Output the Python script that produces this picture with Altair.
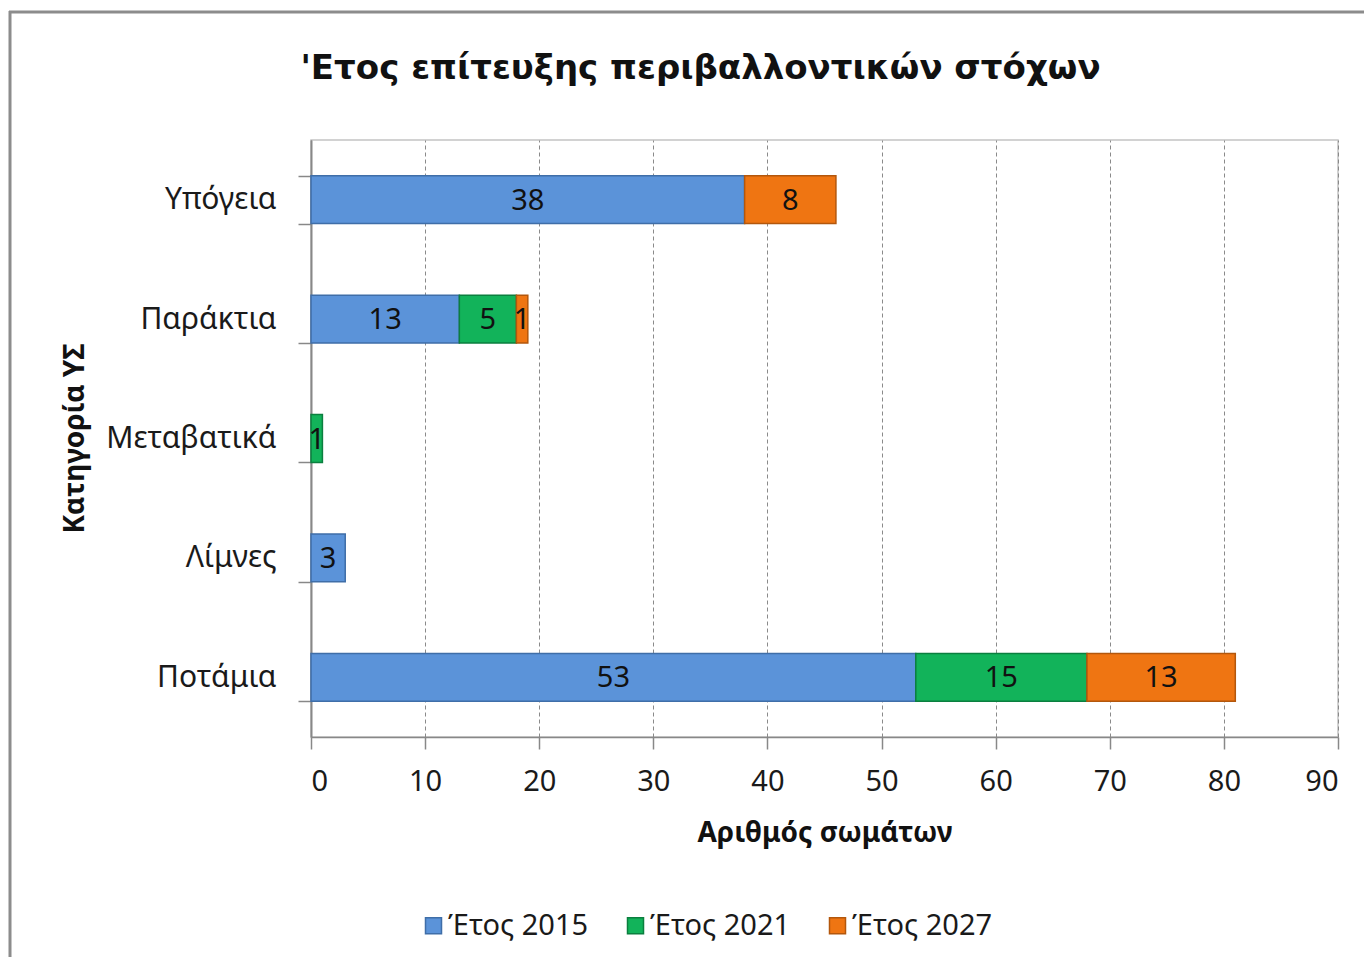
import altair as alt
import pandas as pd

categories = ["Υπόγεια", "Παράκτια", "Μεταβατικά", "Λίμνες", "Ποτάμια"]
series = ["Έτος 2015", "Έτος 2021", "Έτος 2027"]
y2015 = [38, 13, 0, 3, 53]
y2021 = [0, 5, 1, 0, 15]
y2027 = [8, 1, 0, 0, 13]
x_ticks = [0, 10, 20, 30, 40, 50, 60, 70, 80, 90]

rows = []
for i, c in enumerate(categories):
    for j, (s, vals) in enumerate(zip(series, [y2015, y2021, y2027])):
        if vals[i] > 0:
            rows.append({"cat": c, "series": s, "order": j, "value": vals[i]})
df = pd.DataFrame(rows)

FONT = "Noto Sans"
colors = ["#5b93d9", "#12b35a", "#ef7512"]
strokes = ["#3f6ea8", "#0b7f3f", "#b3570c"]

base = alt.Chart(df)

bars = base.mark_bar(strokeWidth=1.5).encode(
    y=alt.Y("cat:N", sort=categories, title="Κατηγορία ΥΣ",
            scale=alt.Scale(paddingInner=0.6, paddingOuter=0.3),
            axis=alt.Axis(tickBand="extent", tickSize=13, labelPadding=22,
                          labelFontSize=30, labelFont=FONT, labelColor="#1a1a1a",
                          domainColor="#888888", domainWidth=2, tickColor="#888888",
                          tickWidth=1.5, titleFont=FONT, titleFontSize=28,
                          titleFontWeight="bold", titleColor="#111111",
                          titleAngle=270, titleX=-236, titleY=298,
                          titleAlign="center", titleBaseline="middle")),
    x=alt.X("value:Q", stack="zero", title="Αριθμός σωμάτων",
            scale=alt.Scale(domain=[0, 90], nice=False),
            axis=alt.Axis(values=x_ticks, tickSize=12, labelPadding=18,
                          labelFontSize=29, labelFont=FONT, labelColor="#1a1a1a",
                          domainColor="#888888", domainWidth=1.5,
                          tickColor="#888888", tickWidth=1.5,
                          grid=True, gridDash=[4, 3], gridColor="#8a8a8a",
                          titleFont=FONT, titleFontSize=28, titleFontWeight="bold",
                          titleColor="#111111", titleY=96, titleBaseline="middle")),
    color=alt.Color("series:N", sort=series,
                    scale=alt.Scale(domain=series, range=colors),
                    legend=alt.Legend(title=None, orient="none", legendX=108,
                                      legendY=771, direction="horizontal",
                                      symbolType="square", symbolSize=256,
                                      symbolStrokeWidth=1.5, labelFontSize=29,
                                      labelFont=FONT, labelColor="#1a1a1a",
                                      columnPadding=32, labelOffset=0)),
    stroke=alt.Stroke("series:N", scale=alt.Scale(domain=series, range=strokes),
                      legend=None),
    order=alt.Order("order:Q"),
)

labels = base.transform_stack(
    stack="value", as_=["x0", "x1"], groupby=["cat"],
    sort=[alt.SortField("order", order="ascending")]
).transform_calculate(mid="(datum.x0 + datum.x1) / 2").mark_text(
    font=FONT, fontSize=29, color="#111111", baseline="middle", align="center", dy=1
).encode(
    y=alt.Y("cat:N", sort=categories),
    x=alt.X("mid:Q"),
    text=alt.Text("value:Q"),
)

frame_data = alt.Data(values=[{}])
frame_left = alt.Chart(frame_data).mark_rule(color="#8c8c8c", strokeWidth=3).encode(
    x=alt.value(-301), y=alt.value(-129), y2=alt.value(860))
frame_top = alt.Chart(frame_data).mark_rule(color="#8c8c8c", strokeWidth=3).encode(
    x=alt.value(-302), x2=alt.value(1100), y=alt.value(-128))

chart = alt.layer(frame_left, frame_top, bars, labels).properties(
    width=1027, height=597,
    autosize=alt.AutoSizeParams(type="none"),
    padding={"left": 303, "top": 132, "right": 26, "bottom": 220},
    title=alt.Title("'Ετος επίτευξης περιβαλλοντικών στόχων", font="DejaVu Sans",
                    fontSize=34, fontWeight="bold", color="#111111",
                    anchor="middle", frame="group", dx=-124, offset=-103,
                    baseline="alphabetic"),
).configure_view(stroke="#c4c4c4", strokeWidth=1.5)

chart.save("out.html", embed_options={"renderer": "svg", "actions": False})
